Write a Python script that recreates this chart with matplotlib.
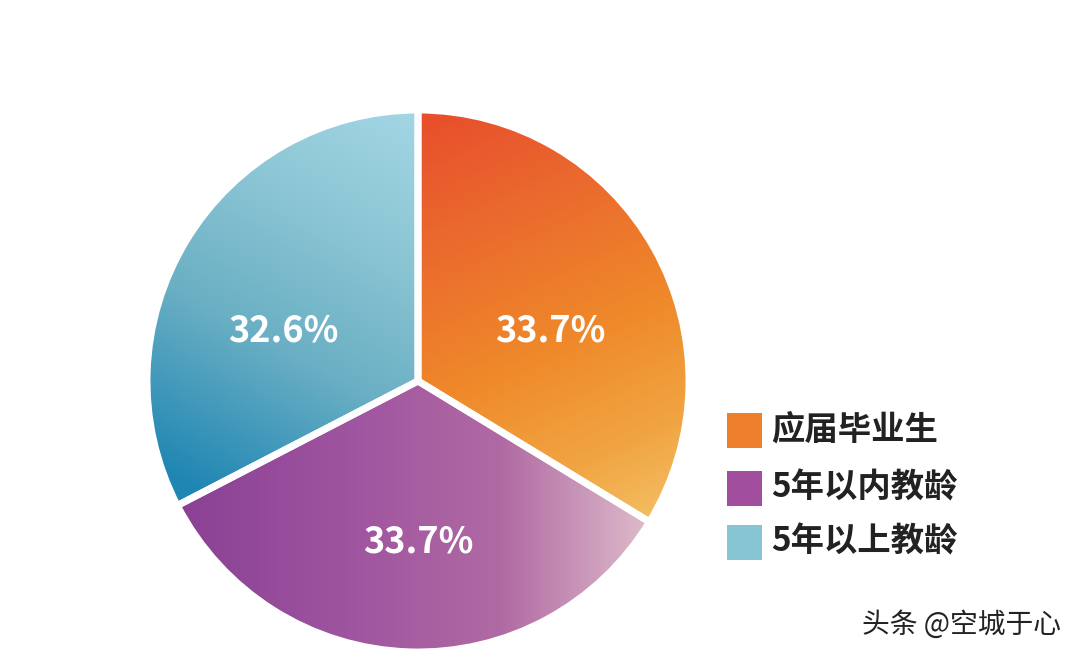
import numpy as np
import matplotlib
matplotlib.use("Agg")
import matplotlib.pyplot as plt
from matplotlib.colors import LinearSegmentedColormap
from matplotlib.patches import Rectangle

plt.rcParams['font.family'] = ['Noto Sans CJK SC', 'DejaVu Sans']

categories = ['应届毕业生', '5年以内教龄', '5年以上教龄']
values = [33.7, 33.7, 32.6]
value_labels = ['33.7%', '33.7%', '32.6%']
legend_colors = ['#EE7F2D', '#A24E9E', '#86C5D1']

# gradient stops and directions (style)
grad_stops = [
    [(0.0, '#E84A2C'), (0.25, '#EA672E'), (0.55, '#EF892A'), (0.78, '#F1A542'), (1.0, '#F5C870')],
    [(0.0, '#883F93'), (0.4, '#A055A0'), (0.7, '#B06AA3'), (1.0, '#DDBBCA')],
    [(0.0, '#1F86B3'), (0.35, '#6AAFC4'), (0.65, '#8CC6D4'), (1.0, '#A9DAEA')],
]
grad_dirs = [(0.45, -1.0), (1.0, 0.0), (0.55, 1.0)]
grad_ranges = [(-0.95, 0.95), (-0.95, 0.85), (-0.75, 1.0)]
label_pos = [(0.49, 0.185), (0.0, -0.594), (-0.498, 0.185)]

W, H, DPI = 1080, 657, 100
fig = plt.figure(figsize=(W / DPI, H / DPI), dpi=DPI)
fig.patch.set_facecolor('white')

cx, cy, r = 418, 381, 271
ax = fig.add_axes([(cx - r) / W, (H - cy - r) / H, 2 * r / W, 2 * r / H])

wedges, _ = ax.pie(values, startangle=90, counterclock=False, radius=1,
                   wedgeprops=dict(edgecolor='white', linewidth=5))

n = 400
xs = np.linspace(-1, 1, n)
X, Y = np.meshgrid(xs, xs[::-1])
for w, stops, d, rg in zip(wedges, grad_stops, grad_dirs, grad_ranges):
    dv = np.array(d) / np.hypot(*d)
    t = (X * dv[0] + Y * dv[1] - rg[0]) / (rg[1] - rg[0])
    t = np.clip(t, 0, 1)
    cmap = LinearSegmentedColormap.from_list('g', stops)
    im = ax.imshow(t, cmap=cmap, extent=[-1, 1, -1, 1], origin='upper',
                   vmin=0, vmax=1, zorder=1, interpolation='bilinear')
    im.set_clip_path(w)
    w.set_facecolor('none')
    w.set_zorder(2)

for (lx, ly), lab in zip(label_pos, value_labels):
    ax.text(lx, ly, lab, ha='center', va='center', color='white',
            fontsize=26, fontweight='bold', zorder=3)

ax.set_xlim(-1.0, 1.0)
ax.set_ylim(-1.0, 1.0)
ax.set_aspect('equal')
ax.axis('off')

# legend
leg_y = [430, 488, 542]
for yy, col, cat in zip(leg_y, legend_colors, categories):
    fig.patches.append(Rectangle(((727) / W, (H - yy - 17.5) / H), 35 / W, 35 / H,
                                 transform=fig.transFigure, facecolor=col,
                                 edgecolor='none'))
    fig.text(771 / W, (H - yy) / H, cat, ha='left', va='center',
             fontsize=24, fontweight='bold', color='#222222')

fig.text(862 / W, (H - 625) / H, '头条 @空城于心', ha='left', va='center',
         fontsize=20, color='#222222')

fig.savefig('out.png', dpi=DPI, facecolor='white')
